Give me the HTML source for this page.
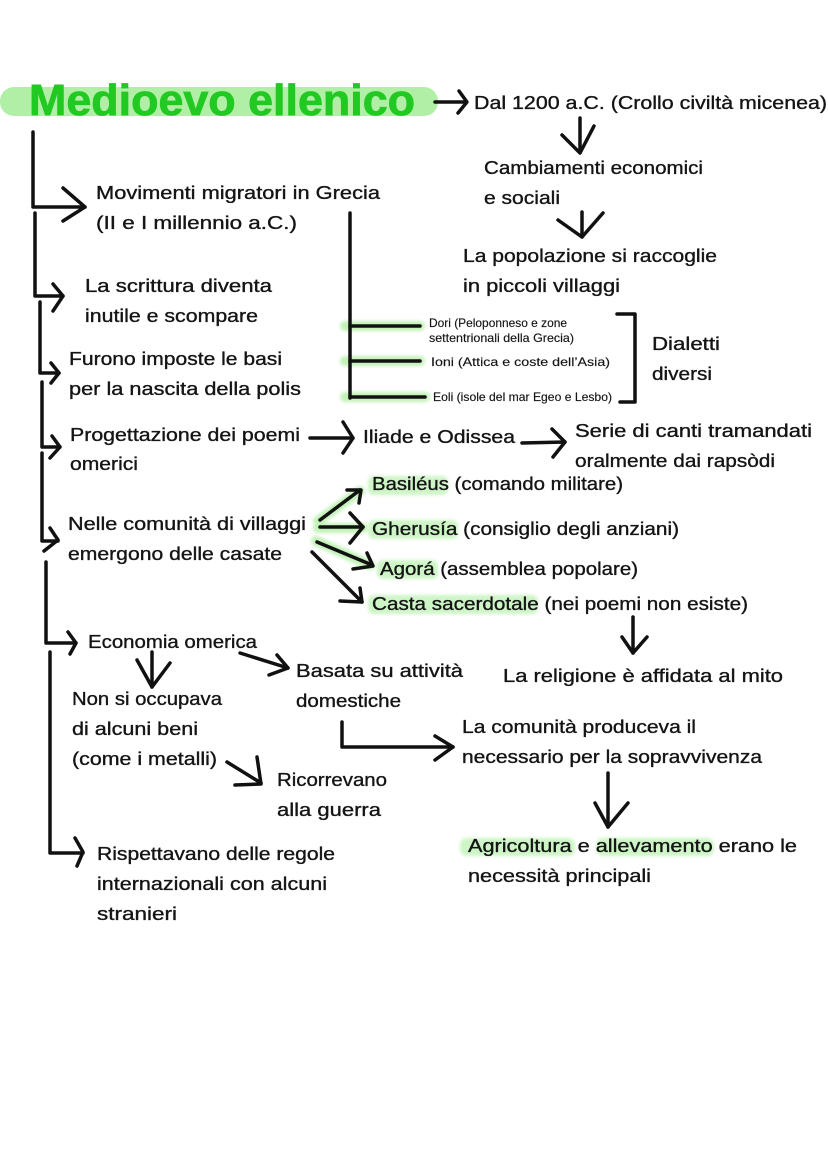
<!DOCTYPE html>
<html>
<head>
<meta charset="utf-8">
<style>
html,body{margin:0;padding:0;background:#fff;}
svg{display:block;}
text{font-family:"Liberation Sans","DejaVu Sans",sans-serif;fill:#141414;font-size:18.5px;stroke:#141414;stroke-width:0.35px;}
.s{font-size:12px;stroke-width:0.15px;}
</style>
</head>
<body>
<svg width="828" height="1171" viewBox="0 0 828 1171" xmlns="http://www.w3.org/2000/svg">
<defs>
<filter id="bl" x="-20%" y="-50%" width="140%" height="200%"><feGaussianBlur stdDeviation="1.5"/></filter>
</defs>
<rect width="828" height="1171" fill="#fff"/>

<!-- highlights -->
<rect x="0" y="87" width="438" height="29" rx="14" fill="#b2efa6"/>
<g fill="#cdf5c6" filter="url(#bl)">
<rect x="368" y="476" width="80" height="19" rx="6"/>
<rect x="368" y="520" width="90" height="19" rx="6"/>
<rect x="377" y="560" width="61" height="19" rx="6"/>
<rect x="368" y="595" width="170" height="19" rx="6"/>
<rect x="460" y="838" width="115" height="18" rx="7"/>
<rect x="596" y="838" width="118" height="18" rx="7"/>
</g>
<g stroke="#c2f2b8" stroke-width="10" fill="none" stroke-linecap="round" filter="url(#bl)">
<path d="M345 326 L420 326"/>
<path d="M345 361 L420 361"/>
<path d="M345 397 L425 397"/>
<path d="M318 521 L360 491"/>
<path d="M318 528 L363 528"/>
<path d="M316 541 L370 565"/>
</g>

<!-- title -->
<text x="29" y="115" style="font-size:44px;font-weight:bold;fill:#22c922;stroke:#22c922;stroke-width:0.8px" textLength="386" lengthAdjust="spacingAndGlyphs">Medioevo ellenico</text>

<!-- connectors -->
<g stroke="#111" stroke-width="3.5" fill="none" stroke-linecap="round" stroke-linejoin="round">
<path d="M435 102 L466 102"/><path d="M459 91 L467 102 L458 113"/>
<path d="M580 118 L580 152"/><path d="M562 135 L580 153 L594 126"/>
<path d="M582 212 L582 237"/><path d="M558 220 L582 237 L603 213"/>

<path d="M33 132 L33 207 L85 207"/><path d="M63 188 L85 207 L63 221"/>
<path d="M35 213 L35 296 L63 296"/><path d="M53 284 L63 296 L53 311"/>
<path d="M40 302 L40 373 L59 373"/><path d="M51 363 L59 373 L51 383"/>
<path d="M42 382 L42 447 L60 447"/><path d="M52 436 L60 447 L50 458"/>
<path d="M42 453 L42 541 L58 541"/><path d="M50 528 L58 540 L44 551"/>
<path d="M46 562 L46 643 L76 643"/><path d="M68 632 L76 643 L70 654"/>
<path d="M50 652 L50 853 L83 853"/><path d="M75 838 L83 852 L77 866"/>

<path d="M310 438 L353 438"/><path d="M343 422 L353 438 L343 453"/>
<path d="M522 443 L565 442"/><path d="M552 429 L565 442 L553 457"/>

<path d="M320 520 L360 490"/><path d="M347 490 L361 490 L359 503"/>
<path d="M320 527 L363 527"/><path d="M350 513 L363 527 L350 543"/>
<path d="M317 542 L372 565"/><path d="M367 553 L373 566 L353 569"/>
<path d="M312 552 L362 602"/><path d="M360 588 L362 602 L340 601"/>

<path d="M633 617 L633 653"/><path d="M622 637 L633 653 L647 637"/>
<path d="M152 652 L152 687"/><path d="M137 660 L152 687 L170 663"/>
<path d="M240 653 L288 668"/><path d="M277 655 L288 668 L269 675"/>
<path d="M227 762 L261 783"/><path d="M257 757 L261 784 L235 785"/>
<path d="M342 722 L342 747 L453 747"/><path d="M435 736 L453 747 L435 760"/>
<path d="M608 773 L608 827"/><path d="M595 803 L608 827 L628 803"/>

<path d="M350 213 L350 398"/>
<path d="M350 326 L420 326"/><path d="M350 361 L420 361"/><path d="M350 397 L425 397"/>
<path d="M617 314 L635 314 L635 402 L620 402"/>
</g>

<!-- right top column -->
<text x="474" y="109" textLength="353" lengthAdjust="spacingAndGlyphs">Dal 1200 a.C. (Crollo civiltà micenea)</text>
<text x="484" y="174" textLength="219" lengthAdjust="spacingAndGlyphs">Cambiamenti economici</text>
<text x="484" y="204" textLength="76" lengthAdjust="spacingAndGlyphs">e sociali</text>
<text x="463" y="262" textLength="254" lengthAdjust="spacingAndGlyphs">La popolazione si raccoglie</text>
<text x="463" y="292" textLength="157" lengthAdjust="spacingAndGlyphs">in piccoli villaggi</text>

<!-- left column -->
<text x="96" y="199" textLength="284" lengthAdjust="spacingAndGlyphs">Movimenti migratori in Grecia</text>
<text x="96" y="229" textLength="201" lengthAdjust="spacingAndGlyphs">(II e I millennio a.C.)</text>
<text x="85" y="292" textLength="187" lengthAdjust="spacingAndGlyphs">La scrittura diventa</text>
<text x="85" y="322" textLength="173" lengthAdjust="spacingAndGlyphs">inutile e scompare</text>
<text x="69" y="365" textLength="213" lengthAdjust="spacingAndGlyphs">Furono imposte le basi</text>
<text x="69" y="395" textLength="232" lengthAdjust="spacingAndGlyphs">per la nascita della polis</text>
<text x="70" y="441" textLength="230" lengthAdjust="spacingAndGlyphs">Progettazione dei poemi</text>
<text x="70" y="470" textLength="68" lengthAdjust="spacingAndGlyphs">omerici</text>
<text x="68" y="530" textLength="238" lengthAdjust="spacingAndGlyphs">Nelle comunità di villaggi</text>
<text x="68" y="560" textLength="214" lengthAdjust="spacingAndGlyphs">emergono delle casate</text>

<!-- dialects -->
<text class="s" x="429" y="327" textLength="138" lengthAdjust="spacingAndGlyphs">Dori (Peloponneso e zone</text>
<text class="s" x="429" y="342" textLength="145" lengthAdjust="spacingAndGlyphs">settentrionali della Grecia)</text>
<text class="s" x="431" y="366" textLength="179" lengthAdjust="spacingAndGlyphs">Ioni (Attica e coste dell’Asia)</text>
<text class="s" x="433" y="401" textLength="179" lengthAdjust="spacingAndGlyphs">Eoli (isole del mar Egeo e Lesbo)</text>
<text x="652" y="350" textLength="68" lengthAdjust="spacingAndGlyphs">Dialetti</text>
<text x="652" y="380" textLength="60" lengthAdjust="spacingAndGlyphs">diversi</text>

<!-- middle -->
<text x="363" y="443" textLength="152" lengthAdjust="spacingAndGlyphs">Iliade e Odissea</text>
<text x="575" y="437" textLength="237" lengthAdjust="spacingAndGlyphs">Serie di canti tramandati</text>
<text x="575" y="467" textLength="200" lengthAdjust="spacingAndGlyphs">oralmente dai rapsòdi</text>
<text x="372" y="490" textLength="251" lengthAdjust="spacingAndGlyphs">Basiléus (comando militare)</text>
<text x="372" y="535" textLength="307" lengthAdjust="spacingAndGlyphs">Gherusía (consiglio degli anziani)</text>
<text x="380" y="575" textLength="258" lengthAdjust="spacingAndGlyphs">Agorá (assemblea popolare)</text>
<text x="372" y="610" textLength="376" lengthAdjust="spacingAndGlyphs">Casta sacerdotale (nei poemi non esiste)</text>
<text x="503" y="682" textLength="280" lengthAdjust="spacingAndGlyphs">La religione è affidata al mito</text>

<!-- economy -->
<text x="88" y="648" textLength="169" lengthAdjust="spacingAndGlyphs">Economia omerica</text>
<text x="296" y="677" textLength="167" lengthAdjust="spacingAndGlyphs">Basata su attività</text>
<text x="296" y="707" textLength="105" lengthAdjust="spacingAndGlyphs">domestiche</text>
<text x="72" y="705" textLength="150" lengthAdjust="spacingAndGlyphs">Non si occupava</text>
<text x="72" y="735" textLength="126" lengthAdjust="spacingAndGlyphs">di alcuni beni</text>
<text x="72" y="765" textLength="145" lengthAdjust="spacingAndGlyphs">(come i metalli)</text>
<text x="277" y="786" textLength="110" lengthAdjust="spacingAndGlyphs">Ricorrevano</text>
<text x="277" y="816" textLength="104" lengthAdjust="spacingAndGlyphs">alla guerra</text>
<text x="462" y="733" textLength="234" lengthAdjust="spacingAndGlyphs">La comunità produceva il</text>
<text x="462" y="763" textLength="300" lengthAdjust="spacingAndGlyphs">necessario per la sopravvivenza</text>
<text x="468" y="852" textLength="329" lengthAdjust="spacingAndGlyphs">Agricoltura e allevamento erano le</text>
<text x="468" y="882" textLength="183" lengthAdjust="spacingAndGlyphs">necessità principali</text>
<text x="97" y="860" textLength="238" lengthAdjust="spacingAndGlyphs">Rispettavano delle regole</text>
<text x="97" y="890" textLength="230" lengthAdjust="spacingAndGlyphs">internazionali con alcuni</text>
<text x="97" y="920" textLength="80" lengthAdjust="spacingAndGlyphs">stranieri</text>
</svg>
</body>
</html>
